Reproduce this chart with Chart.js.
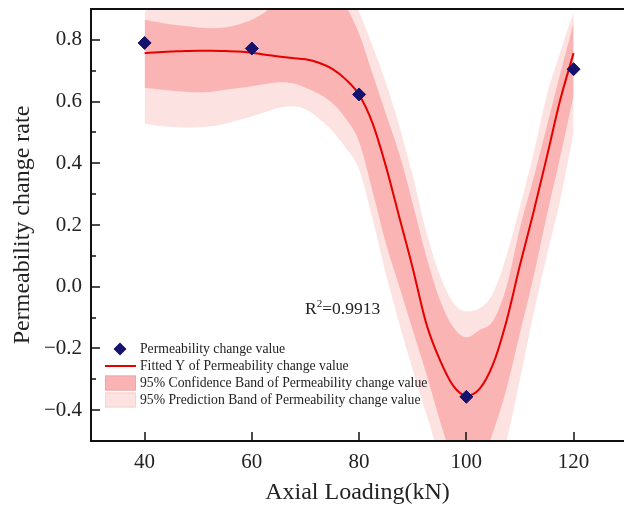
<!DOCTYPE html>
<html>
<head>
<meta charset="utf-8">
<script src="https://cdn.jsdelivr.net/npm/chart.js@4.4.1/dist/chart.umd.min.js"></script>
<style>
  html, body { margin: 0; padding: 0; background: #fff; }
  #wrap { width: 624px; height: 511px; }
</style>
</head>
<body>
<div id="wrap"><canvas id="permChart" width="624" height="511"></canvas></div>
<script>
// measured points
const loadPts = [40, 60, 80, 100, 120];
const permPts = [0.79, 0.772, 0.623, -0.357, 0.705];

// fitted curve and bands, every 2.5 kN
const loadGrid = [40, 42.5, 45, 47.5, 50, 52.5, 55, 57.5, 60, 62.5, 65, 67.5, 70, 72.5, 75, 77.5, 80,
  82.5, 85, 87.5, 90, 92.5, 95, 97.5, 100, 102.5, 105, 107.5, 110, 112.5, 115, 117.5, 120];
const fitY = [0.757, 0.760, 0.762, 0.764, 0.765, 0.765, 0.764, 0.762, 0.758, 0.752, 0.746, 0.741, 0.737, 0.726, 0.706, 0.672, 0.622,
  0.530, 0.390, 0.225, 0.060, -0.118, -0.235, -0.320, -0.353, -0.330, -0.250, -0.110, 0.070, 0.240, 0.420, 0.605, 0.757];
const confUpper = [0.865, 0.857, 0.850, 0.845, 0.840, 0.838, 0.840, 0.850, 0.865, 0.890, 0.930, 0.970, 1.0, 1.0, 0.98, 0.91, 0.82,
  0.69, 0.56, 0.43, 0.27, 0.10, -0.04, -0.13, -0.164, -0.14, -0.11, 0.00, 0.19, 0.35, 0.52, 0.69, 0.855];
const confLower = [0.644, 0.640, 0.635, 0.632, 0.630, 0.632, 0.638, 0.644, 0.650, 0.657, 0.663, 0.660, 0.645, 0.625, 0.595, 0.545, 0.47,
  0.31, 0.14, 0.0, -0.14, -0.28, -0.43, -0.56, -0.60, -0.58, -0.47, -0.33, -0.15, 0.03, 0.23, 0.42, 0.62];
const predUpper = [0.89, 0.93, 0.96, 0.98, 1.0, 1.0, 1.0, 1.0, 1.0, 1.0, 1.0, 1.0, 1.0, 1.0, 1.0, 0.98, 0.89,
  0.78, 0.66, 0.52, 0.36, 0.18, 0.04, -0.05, -0.08, -0.07, -0.02, 0.10, 0.26, 0.43, 0.62, 0.76, 0.89];
const predLower = [0.527, 0.522, 0.518, 0.516, 0.517, 0.520, 0.528, 0.540, 0.552, 0.566, 0.580, 0.585, 0.575, 0.545, 0.505, 0.45, 0.38,
  0.22, 0.04, -0.12, -0.27, -0.41, -0.55, -0.66, -0.70, -0.68, -0.63, -0.50, -0.30, -0.09, 0.10, 0.28, 0.50];

const xTicks = [40, 60, 80, 100, 120];
const yTicks = [-0.4, -0.2, 0, 0.2, 0.4, 0.6, 0.8];
const yMinor = [-0.3, -0.1, 0.1, 0.3, 0.5, 0.7];

const serif = "'Liberation Serif', 'Times New Roman', serif";
const navy = '#15136e';
const red = '#e50000';
const confPink = '#fbb4b4';
const predPink = '#fde2e2';
const clear = 'rgba(0,0,0,0)';

function pairs(xs, ys) {
  return xs.map((x, i) => ({ x: x, y: ys[i] }));
}

function bandLine(data, fillTo, color, order, label, kind) {
  return {
    label: label,
    data: data,
    borderColor: clear,
    borderWidth: 0,
    pointRadius: 0,
    backgroundColor: color || clear,
    fill: fillTo === null ? false : { target: fillTo },
    cubicInterpolationMode: 'monotone',
    order: order,
    legendKind: kind
  };
}

// inward ticks, full frame, R² note and legend inside the plot
const decorations = {
  id: 'decorations',
  afterDraw(chart) {
    const { ctx, chartArea: a, scales: { x, y } } = chart;
    ctx.save();
    ctx.strokeStyle = '#111';
    ctx.lineWidth = 2;
    ctx.beginPath();
    ctx.moveTo(a.left, a.top); ctx.lineTo(a.right, a.top);
    ctx.moveTo(a.left, a.top); ctx.lineTo(a.left, a.bottom); ctx.lineTo(a.right, a.bottom);
    ctx.stroke();

    ctx.lineWidth = 1.5;
    ctx.beginPath();
    xTicks.forEach(v => {
      const px = Math.round(x.getPixelForValue(v));
      ctx.moveTo(px, a.bottom); ctx.lineTo(px, a.bottom - 9);
    });
    yTicks.forEach(v => {
      const py = Math.round(y.getPixelForValue(v));
      ctx.moveTo(a.left, py); ctx.lineTo(a.left + 9, py);
    });
    yMinor.forEach(v => {
      const py = Math.round(y.getPixelForValue(v));
      ctx.moveTo(a.left, py); ctx.lineTo(a.left + 5, py);
    });
    ctx.stroke();

    // R² label
    ctx.fillStyle = '#222';
    ctx.textBaseline = 'alphabetic';
    ctx.textAlign = 'left';
    let rx = 305, ry = 314;
    ctx.font = '17.5px ' + serif;
    ctx.fillText('R', rx, ry);
    rx += ctx.measureText('R').width;
    ctx.font = '11px ' + serif;
    ctx.fillText('2', rx, ry - 7);
    rx += ctx.measureText('2').width;
    ctx.font = '17.5px ' + serif;
    ctx.fillText('=0.9913', rx, ry);

    // legend
    const rows = [349, 366, 383, 400];
    const items = chart.data.datasets.filter(d => d.legendKind);
    ctx.font = '13.7px ' + serif;
    ctx.textBaseline = 'middle';
    items.forEach((d, i) => {
      const cy = rows[i];
      if (d.legendKind === 'diamond') {
        ctx.fillStyle = navy;
        ctx.beginPath();
        ctx.moveTo(120, cy - 6.5); ctx.lineTo(126.5, cy); ctx.lineTo(120, cy + 6.5); ctx.lineTo(113.5, cy);
        ctx.closePath();
        ctx.fill();
      } else if (d.legendKind === 'line') {
        ctx.strokeStyle = red;
        ctx.lineWidth = 2;
        ctx.beginPath();
        ctx.moveTo(105, cy); ctx.lineTo(136, cy);
        ctx.stroke();
      } else {
        ctx.fillStyle = d.backgroundColor;
        ctx.fillRect(105, cy - 7.5, 31, 15);
        ctx.strokeStyle = d.backgroundColor === confPink ? '#f5a3a3' : '#f8d3d3';
        ctx.lineWidth = 1;
        ctx.strokeRect(105.5, cy - 7, 30, 14);
      }
      ctx.fillStyle = '#222';
      ctx.fillText(d.label, 140, cy);
    });
    ctx.restore();
  }
};

new Chart(document.getElementById('permChart'), {
  type: 'line',
  data: {
    datasets: [
      {
        label: 'Permeability change value',
        data: pairs(loadPts, permPts),
        showLine: false,
        pointStyle: 'rectRot',
        pointRadius: 6.5,
        backgroundColor: navy,
        borderColor: navy,
        borderWidth: 1,
        order: 0,
        legendKind: 'diamond'
      },
      {
        label: 'Fitted Y of Permeability change value',
        data: pairs(loadGrid, fitY),
        borderColor: red,
        borderWidth: 2,
        pointRadius: 0,
        fill: false,
        cubicInterpolationMode: 'monotone',
        order: 1,
        legendKind: 'line'
      },
      bandLine(pairs(loadGrid, confUpper), 3, confPink, 2, '95% Confidence Band of Permeability change value', 'box'),
      bandLine(pairs(loadGrid, confLower), null, null, 2, ''),
      bandLine(pairs(loadGrid, predUpper), 5, predPink, 3, '95% Prediction Band of Permeability change value', 'box'),
      bandLine(pairs(loadGrid, predLower), null, null, 3, '')
    ]
  },
  options: {
    responsive: false,
    animation: false,
    events: [],
    layout: { autoPadding: false, padding: { top: 9, right: 0, left: 0, bottom: 0 } },
    plugins: { legend: { display: false }, tooltip: { enabled: false } },
    scales: {
      x: {
        type: 'linear',
        min: 30,
        max: 129.4,
        afterBuildTicks: s => { s.ticks = xTicks.map(v => ({ value: v })); },
        afterFit: s => { s.height = 70; s.paddingLeft = 0; s.paddingRight = 0; },
        grid: { display: true, drawOnChartArea: false, drawTicks: false },
        border: { display: true, color: '#111', width: 2 },
        ticks: { color: '#222', padding: 9, font: { family: serif, size: 21 }, callback: v => String(v) },
        title: { display: true, text: 'Axial Loading(kN)', color: '#222', font: { family: serif, size: 24 }, padding: { top: 0, bottom: 4 } }
      },
      y: {
        type: 'linear',
        min: -0.5,
        max: 0.9,
        afterBuildTicks: s => { s.ticks = yTicks.map(v => ({ value: v })); },
        afterFit: s => { s.width = 91; s.paddingTop = 0; s.paddingBottom = 0; },
        grid: { display: true, drawOnChartArea: false, drawTicks: false },
        border: { display: true, color: '#111', width: 2 },
        ticks: {
          color: '#222', padding: 9, font: { family: serif, size: 21 },
          callback: v => (v < 0 ? '\u2212' + Math.abs(v).toFixed(1) : v.toFixed(1))
        },
        title: { display: true, text: 'Permeability change rate', color: '#222', font: { family: serif, size: 24 }, padding: { top: 8, bottom: 0 } }
      }
    }
  },
  plugins: [decorations]
});
</script>
</body>
</html>
